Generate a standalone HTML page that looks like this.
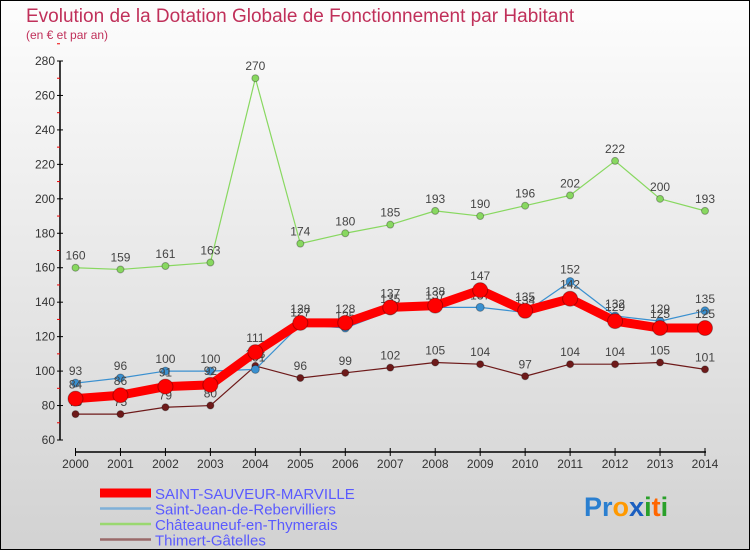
<!DOCTYPE html>
<html><head><meta charset="utf-8"><style>
body{margin:0;}
#wrap{position:relative;width:750px;height:550px;box-sizing:border-box;border:1px solid #000;background:linear-gradient(#fdfdfd,#d2d2d2);overflow:hidden;font-family:"Liberation Sans",sans-serif;}
text{font-family:"Liberation Sans",sans-serif;}
</style></head><body>
<div id="wrap">
<svg id="svg" width="750" height="550" style="position:absolute;left:-1px;top:-1px">
<text x="26" y="22" font-size="19" fill="#c0305a">Evolution de la Dotation Globale de Fonctionnement par Habitant</text>
<text x="26" y="39" font-size="12" fill="#c0305a">(en € et par an)</text>
<g id="axes"></g><g id="series"></g><g id="legend"></g>
<text x="584" y="516" font-size="27" font-weight="bold"><tspan fill="#2a7fd0">Pr</tspan><tspan fill="#ff9900">o</tspan><tspan fill="#1b5fc0">x</tspan><tspan fill="#2aa02a">i</tspan><tspan fill="#ff6600">t</tspan><tspan fill="#2aa02a">i</tspan></text>
</svg>
</div>
<script>
const years=[2000,2001,2002,2003,2004,2005,2006,2007,2008,2009,2010,2011,2012,2013,2014];
const yTicks=[60,80,100,120,140,160,180,200,220,240,260,280];
const saintSauveur=[84,86,91,92,111,128,128,137,138,147,135,142,129,125,125];
const saintJean=[93,96,100,100,101,127,125,135,137,137,134,152,132,129,135];
const chateauneuf=[160,159,161,163,270,174,180,185,193,190,196,202,222,200,193];
const thimert=[75,75,79,80,103,96,99,102,105,104,97,104,104,105,101];
const seriesNames=["SAINT-SAUVEUR-MARVILLE","Saint-Jean-de-Rebervilliers","Châteauneuf-en-Thymerais","Thimert-Gâtelles"];
const NS="http://www.w3.org/2000/svg";
const xS=i=>75.5+i*(705-75.5)/14;
const yS=v=>440-(v-60)*(379/220);
function mk(tag,at,parent){const e=document.createElementNS(NS,tag);for(const k in at)e.setAttribute(k,at[k]);parent.appendChild(e);return e;}
const axes=document.getElementById('axes'),ser=document.getElementById('series'),leg=document.getElementById('legend');
let yl=mk('line',{x1:60,y1:yS(280),x2:60,y2:440,stroke:'#000','stroke-width':1.5},axes);


yTicks.forEach(t=>{
 mk('line',{x1:57,x2:63,y1:yS(t),y2:yS(t),stroke:'#000'},axes);
 mk('line',{x1:57,x2:60,y1:yS(t+10),y2:yS(t+10),stroke:'#e00'},axes);
 const tx=mk('text',{x:55,y:yS(t)+4,'font-size':12,'text-anchor':'end',fill:'#333'},axes);
 tx.textContent=t;
 
 
});
let xl=mk('line',{x1:75,y1:452,x2:706,y2:452,stroke:'#000','stroke-width':1.5},axes);


years.forEach((y,i)=>{
 mk('line',{x1:xS(i),x2:xS(i),y1:448,y2:456,stroke:'#000'},axes);
 const tx=mk('text',{x:xS(i),y:468,'font-size':12,'text-anchor':'middle',fill:'#333'},axes);
 tx.textContent=y;
 
 
});
function draw(data,color,lw,r,name,labelDy){
 const g=mk('g',{},ser);
 
 
 mk('polyline',{points:data.map((v,i)=>xS(i)+','+yS(v)).join(' '),fill:'none',stroke:color,'stroke-width':lw,'stroke-linejoin':'round'},g);
 data.forEach((v,i)=>{
  const c=mk('circle',{cx:xS(i),cy:yS(v),r:r,fill:color,stroke:'rgba(0,0,0,0.3)'},g);
  
  
  const t=mk('text',{x:xS(i),y:yS(v)+labelDy,'font-size':12,'text-anchor':'middle',fill:'#444'},g);
  t.textContent=v;
  
  
 });
}
draw(chateauneuf,'#88d860',1.2,3.5,'chateauneuf-series',-8);
draw(thimert,'#6e1a1a',1.2,3.5,'thimert-series',-8);
draw(saintJean,'#3a90d0',1.2,4,'saint-jean-series',-8);
draw(saintSauveur,'#ff0000',9,7.5,'saint-sauveur-series',-10);
const legColors=['#ff0000','#7fb0d8','#9ad870','#9a6a6a'];
const legW=[9,2.5,2.5,2.5];
seriesNames.forEach((n,i)=>{
 const y=493+i*15.5;
 const l=mk('line',{x1:100,x2:151,y1:y,y2:y,stroke:legColors[i],'stroke-width':legW[i]},leg);
 
 
 const t=mk('text',{x:155,y:y+6,'font-size':15,fill:'#5a5aff'},leg);
 t.textContent=n;
 
 
});
</script>
</body></html>
